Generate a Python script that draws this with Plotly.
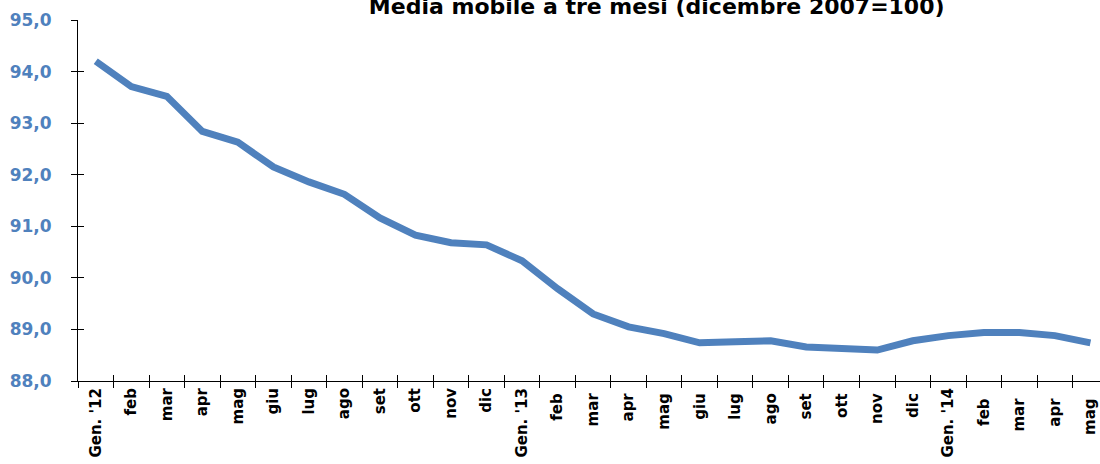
import plotly.graph_objects as go

categories = ["Gen. '12", "feb", "mar", "apr", "mag", "giu", "lug", "ago", "set", "ott", "nov", "dic",
              "Gen. '13", "feb ", "mar ", "apr ", "mag ", "giu ", "lug ", "ago ", "set ", "ott ", "nov ", "dic ",
              "Gen. '14", "feb  ", "mar  ", "apr  ", "mag  "]
values = [94.20, 93.71, 93.52, 92.84, 92.63, 92.15, 91.86, 91.62, 91.16, 90.83, 90.68, 90.64,
          90.33, 89.79, 89.30, 89.05, 88.92, 88.74, 88.76, 88.78, 88.66, 88.64, 88.60, 88.78,
          88.88, 88.94, 88.94, 88.88, 88.74]
y_ticks = [88, 89, 90, 91, 92, 93, 94, 95]
y_tick_labels = ["88,0", "89,0", "90,0", "91,0", "92,0", "93,0", "94,0", "95,0"]
title_text = "Media mobile a tre mesi (dicembre 2007=100)"

fig = go.Figure()
fig.add_trace(go.Scatter(x=categories, y=values, mode="lines",
                         line=dict(color="#4F81BD", width=7), showlegend=False, xaxis="x", yaxis="y"))
# invisible trace for inside-tick overlay axes
fig.add_trace(go.Scatter(x=categories, y=values, mode="lines", line=dict(width=0),
                         showlegend=False, hoverinfo="skip", xaxis="x2", yaxis="y2"))

xr = [-0.5, 28.27]
yr = [88, 95]
fig.update_layout(
    width=1100, height=464,
    margin=dict(l=78, r=0, t=19.5, b=83, autoexpand=False),
    paper_bgcolor="white", plot_bgcolor="white",
    title=dict(text=title_text, x=0.597, xanchor="center", y=1 - 6 / 464, yanchor="middle",
               font=dict(family="DejaVu Sans", size=22, color="black", weight="bold")),
    xaxis=dict(type="category", range=xr, showgrid=False, showline=True, linecolor="black", linewidth=1,
               ticks="outside", ticklen=6, tickcolor="black", tickson="boundaries",
               tickangle=-90, tickfont=dict(family="DejaVu Sans", size=15, color="black", weight="bold"),
               zeroline=False, automargin=False),
    xaxis2=dict(type="category", range=xr, overlaying="x", showgrid=False, showline=False,
                ticks="inside", ticklen=6, tickcolor="black", tickson="boundaries",
                showticklabels=False, zeroline=False, automargin=False),
    yaxis=dict(range=yr, tickvals=y_ticks, ticktext=y_tick_labels, showgrid=False,
               showline=True, linecolor="black", linewidth=1, ticks="outside", ticklen=6,
               tickcolor="black", zeroline=False, ticklabelstandoff=16, automargin=False,
               tickfont=dict(family="DejaVu Sans", size=17, color="#4F81BD", weight="bold")),
    yaxis2=dict(range=yr, overlaying="y", tickvals=y_ticks, showgrid=False, showline=False,
                ticks="inside", ticklen=6, tickcolor="black", showticklabels=False,
                zeroline=False, automargin=False),
)
fig.write_html("out.html", config={"displayModeBar": False},
               post_script="document.body.style.margin='0';document.body.style.overflow='hidden';")
